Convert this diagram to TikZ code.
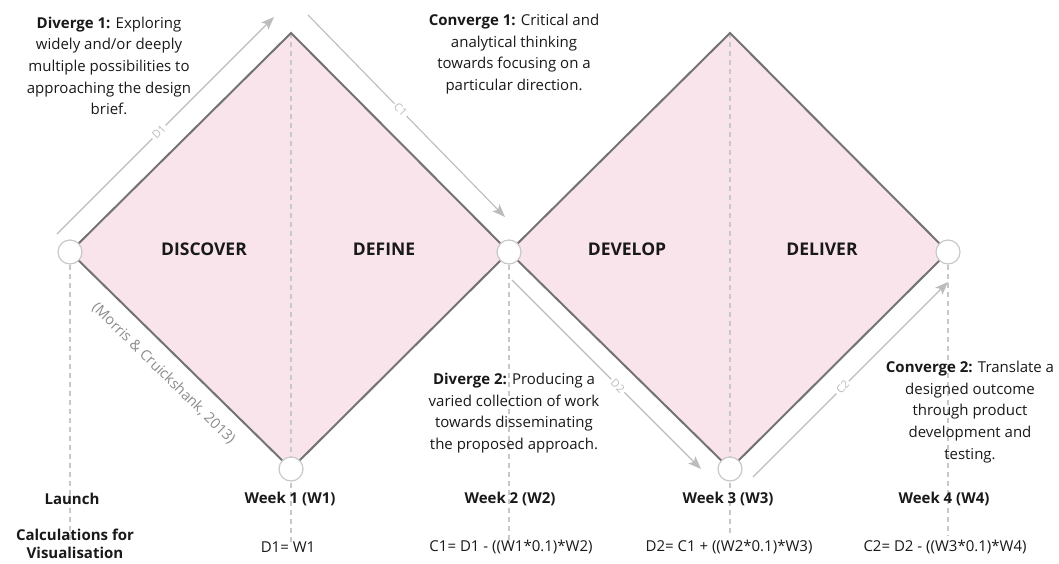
\documentclass[tikz,border=0pt]{standalone}
\usepackage{fontspec}
\setmainfont{Open Sans}
\usetikzlibrary{arrows.meta}
\usetikzlibrary{backgrounds}

\definecolor{petal}{RGB}{249,228,236}
\definecolor{rim}{RGB}{115,115,115}
\definecolor{guide}{RGB}{200,200,200}
\definecolor{flow}{RGB}{188,188,188}
\definecolor{ink}{RGB}{25,25,25}
\definecolor{cite}{RGB}{140,140,140}

\begin{document}
\begin{tikzpicture}[x=1pt,y=-1pt,
    stage/.style={circle,draw=guide,line width=1.2pt,fill=white,minimum size=24pt,inner sep=0pt},
    phase/.style={font=\fontsize{17.5}{20}\selectfont\bfseries,text=ink},
    note/.style={align=center,font=\fontsize{15}{21.7}\selectfont,text=ink},
    week/.style={font=\fontsize{15}{18}\selectfont\bfseries,text=ink},
    sumtext/.style={font=\fontsize{15}{18}\selectfont,text=ink},
    guideline/.style={draw=guide,line width=1.2pt,dash pattern=on 5pt off 4pt},
    flowarrow/.style={draw=flow,line width=1.1pt,-{Stealth[length=13pt,width=10pt,inset=3pt]}},
    flowlab/.style={fill=white,text=flow,font=\fontsize{11}{12}\selectfont,sloped,inner sep=2pt}]

  \useasboundingbox (0,0) rectangle (1059,563);

  \node [stage] (L)  at (70,252)  {};
  \node [stage] (M)  at (509,252) {};
  \node [stage] (R)  at (948,252) {};
  \node [stage] (B1) at (291,469) {};
  \node [stage] (B2) at (730,469) {};
  \coordinate (T1) at (291,33);
  \coordinate (T2) at (730,33);

  \begin{scope}[on background layer]
    \path [fill=petal]
      (L.center) -- (T1) -- (M.center) -- (B1.center) -- cycle
      (M.center) -- (T2) -- (R.center) -- (B2.center) -- cycle;
    \path [guideline]
      (T1) edge (B1 |- 0,543)
      (T2) edge (B2 |- 0,535)
      (L) edge (L |- 0,542)
      (M) edge (M |- 0,540)
      (R) edge (R |- 0,535);
    \path [draw=rim,line width=2pt,line join=miter]
      (L.center) -- (T1) -- (M.center) -- (T2) -- (R.center) -- (B2.center) -- (M.center) -- (B1.center) -- cycle;
  \end{scope}

  \coordinate (D1s) at (57,234);   \coordinate (D1e) at (274,17);
  \coordinate (C1s) at (308,15);   \coordinate (C1e) at (505,217);
  \coordinate (D2s) at (512,280);  \coordinate (D2e) at (701,469);
  \coordinate (C2s) at (753,477);  \coordinate (C2e) at (948,282);

  \path [flowarrow] (D1s) -- node [flowlab,pos=0.47] {D1} (D1e);
  \path [flowarrow] (C1s) -- node [flowlab,pos=0.47] {C1} (C1e);
  \path [flowarrow] (D2s) -- node [flowlab,pos=0.56] {D2} (D2e);
  \path [flowarrow] (C2s) -- node [flowlab,pos=0.46] {C2} (C2e);

  \path (L) -- node [sloped,pos=0.49,below=11pt,text=cite,font=\fontsize{14.5}{16}\selectfont]
    {(Morris \& Cruickshank, 2013)} (B1);

  \node [phase] (discover) at (204,249) {DISCOVER};
  \node [phase] (define)   at (384,249) {DEFINE};
  \node [phase] (develop)  at (627,249) {DEVELOP};
  \node [phase] (deliver)  at (822,249) {DELIVER};

  \node [note] (div1) at (109,66) {\textbf{Diverge 1:} Exploring\\widely and/or deeply\\multiple possibilities to\\approaching the design\\brief.};
  \node [note] (con1) at (514,54) {\textbf{Converge 1:} Critical and\\analytical thinking\\towards focusing on a\\particular direction.};
  \node [note] (div2) at (514,413) {\textbf{Diverge 2:} Producing a\\varied collection of work\\towards disseminating\\the proposed approach.};
  \node [note] (con2) at (970,412) {\textbf{Converge 2:} Translate a\\designed outcome\\through product\\development and\\testing.};

  \node [week] (launch) at (72,499)  {Launch};
  \node [week] (W1)     at (290,499) {Week 1 (W1)};
  \node [week] (W2)     at (510,499) {Week 2 (W2)};
  \node [week] (W3)     at (728,499) {Week 3 (W3)};
  \node [week] (W4)     at (944,499) {Week 4 (W4)};

  \node [week,align=center] (calcs) at (75,544) {Calculations for\\Visualisation};
  \node [sumtext] (sumD1) at (288,547) {D1= W1};
  \node [sumtext] (sumC1) at (511,547) {C1= D1 - ((W1*0.1)*W2)};
  \node [sumtext] (sumD2) at (729,547) {D2= C1 + ((W2*0.1)*W3)};
  \node [sumtext] (sumC2) at (945,547) {C2= D2 - ((W3*0.1)*W4)};

\end{tikzpicture}
\end{document}
